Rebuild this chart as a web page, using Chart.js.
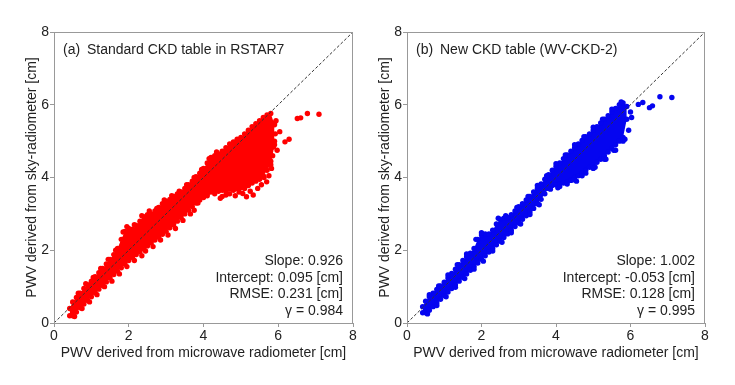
<!DOCTYPE html>
<html>
<head>
<meta charset="utf-8">
<script src="https://cdn.jsdelivr.net/npm/chart.js@4.4.1/dist/chart.umd.min.js"></script>
<style>
  body { margin: 0; background: #fff; width: 735px; height: 385px; position: relative; overflow: hidden; }
  canvas { position: absolute; top: 0; }
  #chartA { left: 14px; width: 349px; height: 385px; }
  #chartB { left: 367px; width: 348px; height: 385px; }
</style>
</head>
<body>
<canvas id="chartA" width="349" height="385"></canvas>
<canvas id="chartB" width="348" height="385"></canvas>
<script>
// tick labels on both axes
const axisTicks = [0, 2, 4, 6, 8];

// (a) dense band: x, lower edge, upper edge (cm)
const redX = [0.42, 0.5, 0.6, 0.7, 0.8, 0.9, 1.0, 1.1, 1.2, 1.3, 1.4, 1.5, 1.6, 1.7, 1.8, 1.9, 2.0, 2.1, 2.2, 2.3, 2.4, 2.5, 2.6, 2.7, 2.8, 2.9, 3.0, 3.1, 3.2, 3.3, 3.4, 3.5, 3.6, 3.7, 3.8, 3.9, 4.0, 4.1, 4.2, 4.3, 4.4, 4.5, 4.6, 4.7, 4.8, 4.9, 5.0, 5.1, 5.2, 5.3, 5.4, 5.5, 5.6, 5.7, 5.8, 5.9];
const redLo = [0.2, 0.2, 0.3, 0.42, 0.52, 0.62, 0.72, 0.83, 0.93, 1.03, 1.13, 1.24, 1.33, 1.42, 1.52, 1.62, 1.72, 1.8, 1.88, 1.96, 2.04, 2.12, 2.2, 2.28, 2.36, 2.44, 2.52, 2.62, 2.7, 2.8, 2.9, 3.0, 3.1, 3.2, 3.3, 3.38, 3.5, 3.55, 3.6, 3.6, 3.62, 3.65, 3.62, 3.68, 3.65, 3.7, 3.72, 3.7, 3.78, 3.85, 3.9, 3.95, 4.05, 4.2, 4.35, 4.9];
const redHi = [0.4, 0.58, 0.7, 0.82, 0.95, 1.05, 1.15, 1.27, 1.38, 1.5, 1.62, 1.75, 1.88, 2.05, 2.3, 2.52, 2.6, 2.58, 2.68, 2.8, 2.92, 2.98, 3.0, 3.08, 3.18, 3.28, 3.35, 3.4, 3.48, 3.55, 3.6, 3.7, 3.8, 3.9, 4.02, 4.12, 4.25, 4.4, 4.55, 4.6, 4.65, 4.72, 4.82, 4.92, 4.98, 5.05, 5.1, 5.2, 5.3, 5.4, 5.48, 5.56, 5.65, 5.72, 5.76, 5.45];
// (a) loose points around the band and the outliers
const redPtX = [0.55, 0.75, 0.95, 1.15, 1.35, 1.55, 1.75, 1.95, 2.15, 2.35, 2.45, 2.65, 2.85, 3.05, 3.25, 3.45, 3.65, 3.75,
  0.65, 0.85, 1.05, 1.25, 1.45, 1.65, 1.85, 1.95, 2.15, 2.35, 2.55, 2.75, 2.95, 3.15, 3.35, 3.55, 3.75, 3.95, 4.15, 4.35,
  4.0, 4.1, 4.3, 4.45, 4.5, 4.6, 4.7, 4.85, 4.95, 5.05, 5.15, 5.25, 5.33, 5.45, 5.55, 5.69, 3.95, 3.85, 5.62, 5.75,
  5.82, 5.87, 5.97, 5.94, 5.92, 5.9, 5.85, 5.8, 5.9, 6.04, 6.18, 6.29, 6.51, 6.6, 6.78, 7.09];
const redPtY = [0.18, 0.4, 0.58, 0.78, 1.0, 1.15, 1.35, 1.55, 1.72, 1.85, 1.98, 2.1, 2.28, 2.42, 2.6, 2.82, 3.0, 3.1,
  0.82, 1.08, 1.25, 1.5, 1.75, 2.0, 2.5, 2.65, 2.7, 2.95, 3.08, 3.15, 3.38, 3.5, 3.62, 3.8, 4.0, 4.22, 4.52, 4.7,
  3.45, 3.5, 3.55, 3.43, 3.48, 3.52, 3.55, 3.5, 3.6, 3.56, 3.47, 3.62, 3.52, 3.7, 3.8, 3.88, 3.55, 3.3, 4.0, 4.05,
  4.25, 4.84, 4.75, 5.56, 5.2, 5.0, 4.6, 4.45, 5.5, 5.26, 4.98, 5.05, 5.62, 5.64, 5.76, 5.74];

// (b) dense band
const blueX = [0.42, 0.5, 0.6, 0.7, 0.8, 0.9, 1.0, 1.1, 1.2, 1.3, 1.4, 1.5, 1.6, 1.7, 1.8, 1.9, 2.0, 2.1, 2.2, 2.3, 2.4, 2.5, 2.6, 2.7, 2.8, 2.9, 3.0, 3.1, 3.2, 3.3, 3.4, 3.5, 3.6, 3.7, 3.8, 3.9, 4.0, 4.1, 4.2, 4.3, 4.4, 4.5, 4.6, 4.7, 4.8, 4.9, 5.0, 5.1, 5.2, 5.3, 5.4, 5.5, 5.6, 5.7, 5.8, 5.9];
const blueLo = [0.28, 0.28, 0.35, 0.45, 0.55, 0.65, 0.75, 0.85, 0.95, 1.05, 1.15, 1.25, 1.35, 1.45, 1.55, 1.65, 1.75, 1.85, 1.95, 2.05, 2.15, 2.25, 2.35, 2.45, 2.55, 2.65, 2.75, 2.85, 2.95, 3.05, 3.15, 3.28, 3.4, 3.55, 3.7, 3.78, 3.8, 3.82, 3.85, 3.88, 3.92, 4.0, 4.05, 4.12, 4.2, 4.28, 4.35, 4.42, 4.5, 4.6, 4.7, 4.8, 4.9, 5.0, 5.1, 5.6];
const blueHi = [0.45, 0.6, 0.72, 0.82, 0.92, 1.02, 1.12, 1.24, 1.36, 1.48, 1.6, 1.72, 1.82, 1.92, 2.05, 2.3, 2.42, 2.45, 2.45, 2.55, 2.72, 2.85, 2.88, 2.9, 2.98, 3.08, 3.2, 3.28, 3.38, 3.48, 3.6, 3.7, 3.82, 3.95, 4.08, 4.2, 4.3, 4.4, 4.52, 4.62, 4.72, 4.82, 4.92, 5.02, 5.12, 5.2, 5.3, 5.4, 5.5, 5.6, 5.7, 5.8, 5.9, 6.0, 6.05, 5.95];
const bluePtX = [0.55, 0.8, 1.05, 1.3, 1.55, 1.8, 2.05, 2.3, 2.55, 2.8, 3.05, 3.3, 3.55, 3.85, 4.05, 4.3, 4.55, 4.8, 5.05, 5.3, 5.55, 5.8,
  0.6, 0.85, 1.1, 1.35, 1.6, 1.85, 2.0, 2.45, 2.65, 2.95, 3.25, 3.5, 3.75, 4.0, 4.25, 4.5, 4.75, 5.0, 5.25, 5.5, 5.75,
  6.03, 6.0, 5.95, 5.85, 5.34, 4.47, 4.1, 4.7, 5.0, 5.6, 6.21, 6.33, 6.51, 6.59, 6.79, 7.11];
const bluePtY = [0.25, 0.48, 0.72, 0.98, 1.22, 1.48, 1.7, 1.98, 2.22, 2.48, 2.72, 2.98, 3.25, 3.68, 3.72, 3.82, 3.9, 4.12, 4.28, 4.5, 4.75, 5.0,
  0.78, 1.02, 1.32, 1.6, 1.9, 2.3, 2.48, 2.88, 2.95, 3.18, 3.48, 3.78, 4.05, 4.38, 4.62, 4.9, 5.12, 5.38, 5.6, 5.88, 6.08,
  5.65, 5.8, 5.3, 5.05, 4.5, 3.94, 3.75, 4.05, 4.25, 4.75, 6.01, 6.06, 5.92, 5.97, 6.22, 6.2];

const xTitle = 'PWV derived from microwave radiometer [cm]';
const yTitle = 'PWV derived from sky-radiometer [cm]';
const statsA = ['Slope: 0.926', 'Intercept: 0.095 [cm]', 'RMSE: 0.231 [cm]', 'γ = 0.984'];
const statsB = ['Slope: 1.002', 'Intercept: -0.053 [cm]', 'RMSE: 0.128 [cm]', 'γ = 0.995'];

const FONT = '"Liberation Sans", Arial, sans-serif';
const TEXT = '#222';
const FRAME = '#999';

function toPts(xs, ys) {
  return xs.map((x, i) => ({ x: x, y: ys[i] }));
}

// panel label, box frame and the stats block
const panelText = {
  id: 'panelText',
  afterDraw(chart, args, opts) {
    const { ctx, chartArea: a } = chart;
    ctx.save();
    ctx.strokeStyle = FRAME;
    ctx.lineWidth = 1;
    ctx.strokeRect(a.left + 0.5, a.top + 0.5, a.right - a.left - 1, a.bottom - a.top);
    ctx.fillStyle = TEXT;
    ctx.font = '14px ' + FONT;
    ctx.textBaseline = 'middle';
    ctx.textAlign = 'left';
    ctx.fillText(opts.tag, a.left + 9, a.top + 18);
    ctx.fillText(opts.title, a.left + 33, a.top + 18);
    ctx.textAlign = 'right';
    opts.stats.forEach((s, i) => {
      ctx.fillText(s, a.right - 10, a.bottom - 62 + i * 16.8);
    });
    ctx.restore();
  },
};

function axis(title, isX) {
  return {
    type: 'linear',
    min: 0,
    max: 8,
    afterBuildTicks: (s) => { s.ticks = axisTicks.map((v) => ({ value: v })); },
    afterFit: (s) => { if (isX) s.height = 62; else s.width = 40; },
    ticks: { font: { size: 14, family: FONT }, color: TEXT, padding: 1, maxRotation: 0 },
    grid: { display: true, drawOnChartArea: false, tickLength: 4, color: FRAME },
    border: { display: true, color: FRAME },
    title: {
      display: true,
      text: title,
      color: TEXT,
      font: { size: 14, family: FONT },
      padding: isX ? { top: 0, bottom: 23 } : { top: 10, bottom: 0 },
    },
  };
}

function makeChart(id, color, xs, lo, hi, px, py, tag, title, stats) {
  const dot = { pointRadius: 2.7, pointHoverRadius: 2.7, pointBackgroundColor: color, pointBorderWidth: 0, pointBorderColor: color };
  return new Chart(document.getElementById(id), {
    type: 'scatter',
    data: {
      datasets: [
        {
          data: [{ x: 0, y: 0 }, { x: 8, y: 8 }],
          showLine: true,
          borderColor: '#333',
          borderWidth: 1,
          borderDash: [3, 2],
          pointRadius: 0,
          order: 0,
        },
        { data: toPts(xs, lo), showLine: true, borderColor: 'rgba(0,0,0,0)', fill: false, order: 2, ...dot },
        { data: toPts(xs, hi), showLine: true, borderColor: 'rgba(0,0,0,0)', backgroundColor: color, fill: '-1', order: 2, ...dot },
        { data: toPts(px, py), order: 1, ...dot },
      ],
    },
    options: {
      responsive: false,
      animation: false,
      devicePixelRatio: 1,
      layout: { padding: { top: 32, right: 10, left: 0, bottom: 0 } },
      plugins: {
        legend: { display: false },
        tooltip: { enabled: false },
        panelText: { tag: tag, title: title, stats: stats },
      },
      scales: { x: axis(xTitle, true), y: axis(yTitle, false) },
    },
    plugins: [panelText],
  });
}

makeChart('chartA', '#ff0000', redX, redLo, redHi, redPtX, redPtY, '(a)', 'Standard CKD table in RSTAR7', statsA);
makeChart('chartB', '#0505f0', blueX, blueLo, blueHi, bluePtX, bluePtY, '(b)', 'New CKD table (WV-CKD-2)', statsB);
</script>
</body>
</html>
